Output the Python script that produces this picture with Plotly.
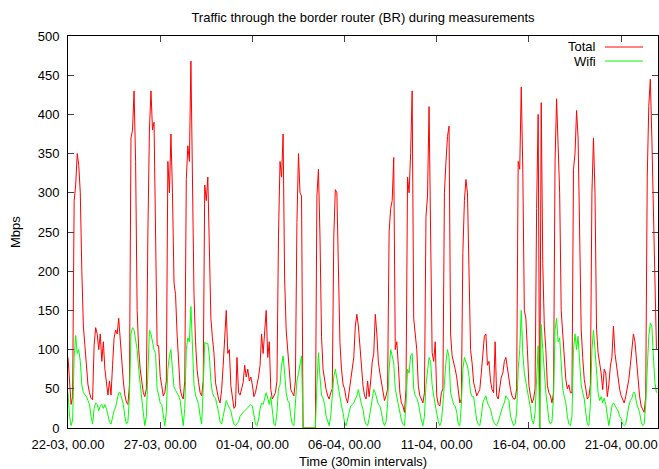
import pandas as pd
import plotly.graph_objects as go

# Sampling of the values: one value every 2 hours
start = "2013-03-22 00:00"
step = "2h"

# Total traffic (Mbps), one row per day (00h, 02h, ..., 22h)
total_mbps = [
    90, 55, 30, 40, 290, 310, 350, 335, 300, 200, 130, 105,   # 22-03
    72, 55, 45, 38, 36, 105, 128, 120, 100, 120, 85, 110,     # 23-03
    75, 55, 42, 60, 42, 80, 115, 125, 120, 140, 110, 80,      # 24-03
    60, 42, 33, 30, 55, 370, 380, 430, 340, 150, 100, 75,     # 25-03
    58, 45, 40, 50, 250, 380, 430, 380, 390, 250, 105, 105,   # 26-03
    66, 54, 41, 45, 60, 340, 300, 375, 300, 185, 170, 120,    # 27-03
    75, 50, 41, 37, 60, 317, 360, 340, 468, 330, 170, 110,    # 28-03
    75, 58, 45, 41, 60, 310, 290, 320, 240, 140, 115, 96,     # 29-03
    58, 45, 37, 32, 49, 80, 120, 150, 95, 100, 54, 40,        # 30-03
    25, 28, 90, 45, 42, 50, 58, 80, 65, 75, 60, 65,           # 31-03
    55, 40, 45, 55, 65, 80, 120, 95, 130, 150, 90, 110,       # 01-04
    49, 37, 41, 45, 60, 245, 340, 320, 375, 190, 125, 100,    # 02-04
    66, 49, 45, 41, 60, 262, 350, 300, 296, 0, 0, 0,          # 03-04
    0, 0, 0, 0, 0, 0, 296, 330, 245, 117, 75, 58,             # 04-04
    49, 41, 37, 45, 50, 245, 304, 300, 180, 109, 75, 56,      # 05-04
    50, 38, 32, 45, 62, 77, 90, 130, 145, 130, 100, 70,       # 06-04
    54, 41, 37, 60, 40, 60, 84, 95, 145, 120, 84, 70,         # 07-04
    58, 49, 35, 41, 50, 250, 280, 290, 345, 100, 110, 80,     # 08-04
    45, 32, 28, 20, 50, 320, 300, 350, 430, 140, 117, 100,    # 09-04
    54, 41, 37, 32, 45, 270, 296, 410, 250, 96, 85, 110,      # 10-04
    41, 30, 28, 45, 50, 300, 340, 372, 385, 120, 92, 85,      # 11-04
    75, 65, 45, 32, 37, 224, 290, 317, 300, 200, 100, 83,     # 12-04
    58, 50, 41, 45, 49, 70, 100, 117, 120, 80, 85, 60,        # 13-04
    49, 45, 110, 41, 37, 50, 65, 70, 85, 90, 75, 60,          # 14-04
    49, 41, 37, 37, 50, 340, 330, 435, 330, 150, 140, 100,    # 15-04
    54, 41, 32, 37, 50, 280, 400, 0, 415, 210, 130, 100,      # 16-04
    54, 45, 41, 32, 45, 340, 420, 360, 300, 150, 117, 80,     # 17-04
    62, 50, 55, 45, 45, 330, 350, 405, 370, 250, 126, 90,     # 18-04
    62, 50, 37, 40, 55, 300, 370, 300, 126, 96, 85, 70,       # 19-04
    49, 75, 70, 40, 55, 79, 90, 130, 95, 80, 62, 50,          # 20-04
    41, 37, 32, 40, 50, 62, 80, 100, 120, 110, 85, 58,        # 21-04
    41, 28, 24, 20, 40, 320, 410, 445, 370, 290, 180, 100,    # 22-04
]

# Wifi traffic (Mbps), same sampling
wifi_mbps = [
    45, 15, 3, 10, 90, 118, 95, 100, 85, 55, 45, 42,          # 22-03
    40, 35, 30, 15, 5, 25, 32, 30, 22, 28, 30, 25,            # 23-03
    30, 25, 18, 8, 5, 14, 22, 27, 35, 45, 45, 35,             # 24-03
    30, 15, 5, 8, 40, 120, 128, 125, 115, 100, 75, 50,        # 25-03
    37, 20, 3, 15, 70, 125, 120, 110, 100, 95, 50, 42,        # 26-03
    32, 30, 15, 3, 20, 75, 92, 100, 75, 52, 48, 45,           # 27-03
    41, 35, 15, 3, 25, 100, 115, 110, 155, 96, 55, 42,        # 28-03
    37, 30, 15, 5, 50, 109, 108, 108, 92, 60, 45, 40,         # 29-03
    38, 30, 20, 8, 5, 15, 25, 35, 30, 25, 22, 12,             # 30-03
    5, 3, 5, 8, 15, 18, 20, 22, 24, 25, 28, 30,               # 31-03
    28, 15, 5, 3, 10, 24, 32, 30, 37, 45, 38, 30,             # 01-04
    40, 20, 5, 3, 20, 50, 55, 80, 92, 70, 45, 35,             # 02-04
    32, 15, 5, 3, 30, 60, 70, 80, 92, 0, 0, 0,                # 03-04
    0, 0, 0, 0, 0, 0, 55, 96, 65, 42, 38, 30,                 # 04-04
    15, 8, 3, 15, 45, 66, 75, 62, 54, 41, 28, 20,             # 05-04
    7, 3, 10, 20, 28, 30, 32, 37, 41, 49, 38, 30,             # 06-04
    24, 10, 5, 3, 12, 24, 35, 49, 45, 35, 30, 28,             # 07-04
    20, 8, 3, 8, 30, 75, 100, 92, 83, 50, 40, 30,             # 08-04
    20, 10, 5, 3, 30, 75, 70, 92, 95, 50, 41, 38,             # 09-04
    32, 20, 10, 3, 15, 55, 75, 90, 85, 55, 41, 30,            # 10-04
    24, 8, 3, 8, 30, 60, 85, 100, 90, 45, 38, 30,             # 11-04
    28, 20, 5, 3, 30, 75, 90, 83, 79, 66, 45, 40,             # 12-04
    40, 25, 10, 5, 3, 15, 32, 37, 41, 32, 28, 24,             # 13-04
    15, 8, 5, 3, 8, 15, 20, 28, 32, 41, 38, 35,               # 14-04
    15, 8, 3, 5, 20, 75, 100, 150, 95, 70, 60, 45,            # 15-04
    37, 25, 10, 5, 20, 75, 105, 0, 132, 100, 66, 45,          # 16-04
    28, 10, 5, 8, 40, 125, 140, 110, 115, 75, 50, 40,         # 17-04
    32, 15, 5, 3, 15, 100, 120, 100, 117, 85, 55, 45,         # 18-04
    37, 20, 5, 3, 30, 100, 125, 100, 75, 45, 35, 40,          # 19-04
    32, 38, 30, 15, 3, 15, 28, 32, 28, 26, 22, 15,            # 20-04
    12, 5, 3, 5, 18, 28, 35, 38, 45, 45, 32, 25,              # 21-04
    20, 8, 3, 5, 30, 75, 117, 134, 130, 92, 58, 45,           # 22-04
]

series_names = ["Total", "Wifi"]
series_colors = ["#ff0000", "#00ff00"]

times = pd.date_range(start, periods=len(total_mbps), freq=step)

FONT = "Liberation Sans, Arial, Helvetica, sans-serif"

fig = go.Figure()
for name, vals, col in zip(series_names, [total_mbps, wifi_mbps], series_colors):
    fig.add_trace(go.Scatter(x=times, y=vals, mode="lines", name=name,
                             line=dict(color=col, width=1), showlegend=False,
                             hoverinfo="skip"))

axis_common = dict(
    showline=True, linecolor="black", linewidth=1, mirror="ticks",
    ticks="inside", ticklen=6, tickcolor="#444", tickwidth=1,
    showgrid=False, zeroline=False, automargin=False,
    tickfont=dict(family=FONT, size=13, color="black"),
)

fig.update_xaxes(
    range=["2013-03-22 00:00", "2013-04-23 00:00"],
    tickmode="linear", tick0="2013-03-22 00:00", dtick=5 * 86400000,
    tickformat="%d-%m, %H.%M", ticklabelstandoff=4, **axis_common)
fig.update_yaxes(range=[0, 500], tickmode="linear", tick0=0, dtick=50,
                 ticklabelstandoff=5, **axis_common)

plot_l, plot_r, plot_t, plot_b = 68, 658, 36, 428
pw, ph = plot_r - plot_l, plot_b - plot_t

def px(x):
    return (x - plot_l) / pw

def py(y):
    return (plot_b - y) / ph

annotations = [
    dict(text="Time (30min intervals)", x=0.5, y=py(461), xref="paper", yref="paper",
         showarrow=False, xanchor="center", yanchor="middle",
         font=dict(family=FONT, size=13, color="black")),
    dict(text="Mbps", x=px(15), y=0.5, xref="paper", yref="paper", textangle=-90,
         showarrow=False, xanchor="center", yanchor="middle",
         font=dict(family=FONT, size=13, color="black")),
]
shapes = []
for i, (name, col) in enumerate(zip(series_names, series_colors)):
    yc = 47.0 + i * 14.0
    annotations.append(dict(text=name, x=px(597), y=py(yc), xref="paper", yref="paper",
                            showarrow=False, xanchor="right", yanchor="middle",
                            borderpad=0,
                            font=dict(family=FONT, size=13, color="black")))
    shapes.append(dict(type="line", xref="paper", yref="paper",
                       x0=px(605), x1=px(643), y0=py(yc), y1=py(yc),
                       line=dict(color=col, width=1)))

fig.update_layout(
    width=659, height=469,
    margin=dict(l=plot_l, r=659 - plot_r, t=plot_t, b=469 - plot_b, autoexpand=False),
    paper_bgcolor="white", plot_bgcolor="white",
    title=dict(text="Traffic through the border router (BR) during measurements",
               x=0.5, xref="paper", xanchor="center", y=1 - 17 / 469, yanchor="middle",
               font=dict(family=FONT, size=13, color="black"),
               automargin=False),
    annotations=annotations, shapes=shapes,
    showlegend=False,
)

fig.write_html("out.html", config={"displayModeBar": False},
               post_script="document.body.style.margin='0';document.body.style.overflow='hidden';")
